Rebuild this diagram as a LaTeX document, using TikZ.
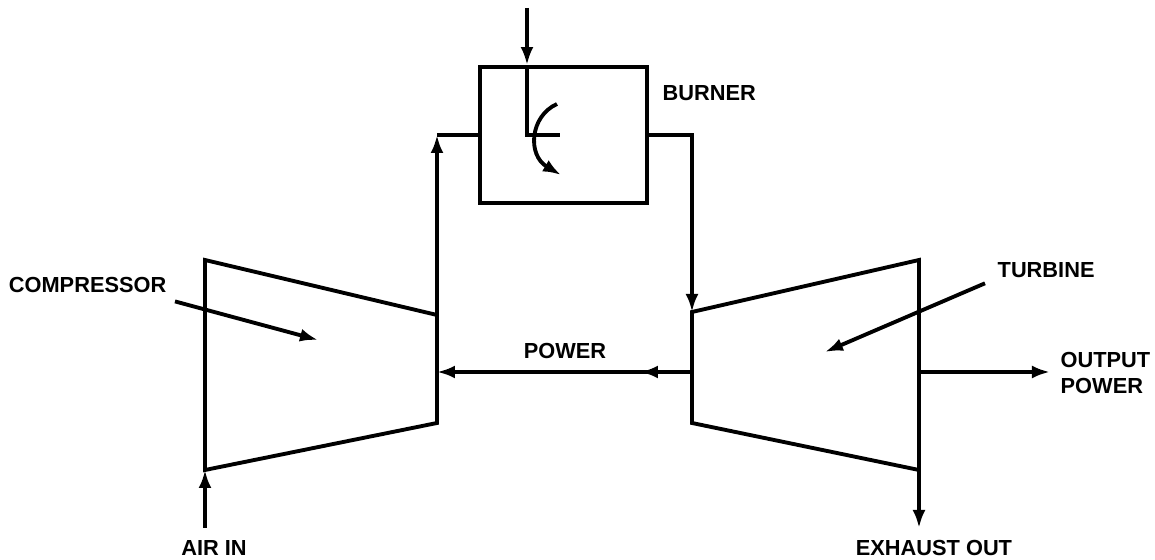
\documentclass[tikz,border=0pt]{standalone}
\usepackage{fontspec}
\setmainfont{Liberation Sans}
\usetikzlibrary{arrows.meta,positioning,calc}
\tikzset{
    unitline/.style={draw=black, line width=1.1pt},
    flow/.style={-{Latex[length=1.8mm,width=1.3mm]}, line width=1.1pt},
    burnerbox/.style={
        rectangle, draw=black, line width=1.1pt,
        inner sep=0pt, minimum width=16.7mm, minimum height=13.6mm
    },
    lbl/.style={font=\fontsize{6.2}{7.6}\selectfont\bfseries,
        inner sep=0pt, align=left}
}

\begin{document}
\begin{tikzpicture}[x=0.1mm, y=-0.1mm]
    \useasboundingbox (0,0) rectangle (1155,560);
    % compressor (left) and turbine (right)
    \coordinate (cTL) at (205,260);
    \coordinate (cTR) at (437,315);
    \coordinate (cBR) at (437,423);
    \coordinate (cBL) at (205,470);
    \coordinate (tTL) at (692,312);
    \coordinate (tTR) at (919,260);
    \coordinate (tBR) at (919,470);
    \coordinate (tBL) at (692,423);
    \draw[unitline] (cTL) -- (cTR) -- (cBR) -- (cBL) -- cycle;
    \draw[unitline] (tTL) -- (tTR) -- (tBR) -- (tBL) -- cycle;
    % burner
    \node[burnerbox] (burner) at (563.5,135) {};
    \node[lbl, anchor=west] (burnlbl) at (662,93) {BURNER};
    % fuel in and swirl
    \coordinate (fuel) at (527,8);
    \draw[flow] (fuel) -- (fuel |- burner.north);
    \draw[unitline] (fuel |- burner.north) -- (fuel |- burner.center) -- ++(33,0);
    \draw[flow] (557,104) .. controls (530,116) and (527,155) .. (561,175);
    % air path
    \coordinate (airin) at (205,528);
    \draw[flow] (airin) -- (cBL);
    \node[lbl] (airlbl) at (214,548) {AIR IN};
    \draw[flow] (cTR) -- (cTR |- burner.west);
    \draw[unitline] (cTR |- burner.west) -- (burner.west);
    \draw[flow] (burner.east) -| (tTL);
    \coordinate (exh) at (919,528);
    \draw[flow] (tBR) -- (exh);
    \node[lbl] (exhlbl) at (934,548) {EXHAUST OUT};
    % power shaft
    \coordinate (pmid) at (640,372);
    \draw[flow] (tTL |- pmid) -- (cTR |- pmid);
    \draw[flow] (tTL |- pmid) -- (pmid);
    \node[lbl] (powlbl) at (565,351) {POWER};
    \coordinate (pout) at (1050,372);
    \draw[flow] (tTR |- pmid) -- (pout);
    \node[lbl, anchor=west] (outlbl) at (1060,373) {OUTPUT\\POWER};
    % pointers
    \node[lbl, anchor=east] (cmplbl) at (167,285) {COMPRESSOR};
    \coordinate (cmpin) at (318,340);
    \draw[flow] ([shift={(8,8)}]cmplbl.south east) -- (cmpin);
    \node[lbl, anchor=west] (turblbl) at (997,270) {TURBINE};
    \coordinate (turbin) at (825,352);
    \draw[flow] ([shift={(-12,5)}]turblbl.south west) -- (turbin);
\end{tikzpicture}
\end{document}
